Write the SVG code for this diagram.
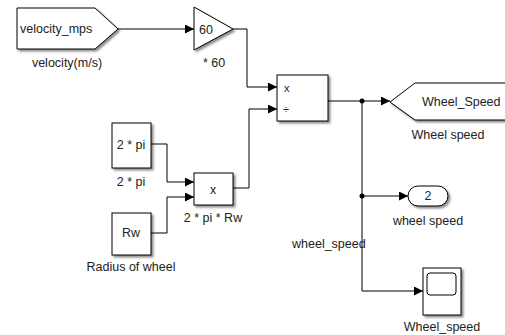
<svg xmlns="http://www.w3.org/2000/svg" width="505" height="335" viewBox="0 0 505 335">
<defs>
<filter id="sh" x="-20%" y="-20%" width="150%" height="150%">
<feDropShadow dx="2" dy="2" stdDeviation="1.3" flood-color="#000" flood-opacity="0.45"/>
</filter>
<marker id="ar" viewBox="0 0 10 10" refX="10" refY="5" markerWidth="9" markerHeight="9" markerUnits="userSpaceOnUse" orient="auto">
<path d="M0,0 L10,5 L0,10 z" fill="#000"/>
</marker>
</defs>
<style>
.blk{fill:#fff;stroke:#000;stroke-width:1;filter:url(#sh)}
.ln{fill:none;stroke:#000;stroke-width:1;marker-end:url(#ar)}
.ln2{fill:none;stroke:#000;stroke-width:1}
text{font-family:"Liberation Sans",Arial,sans-serif;font-size:12.5px;fill:#222}
.c{text-anchor:middle}
.sm{font-size:11px}
</style>
<rect width="505" height="335" fill="#fff"/>
<g id="connectors">
<path class="ln" d="M118,29 H194"/>
<path class="ln" d="M233,29 H247 V87 H277"/>
<path class="ln" d="M151,144 H167 V182 H194"/>
<path class="ln" d="M151,233 H167 V197 H194"/>
<path class="ln" d="M233,188 H249 V109 H277"/>
<path class="ln" d="M328,101 H390"/>
<path class="ln" d="M362,196 H408"/>
<path class="ln" d="M362,101 V291 H423"/>
<circle cx="362" cy="101" r="2.5" fill="#000"/>
<circle cx="362" cy="196" r="2.5" fill="#000"/>
<text x="292" y="248" font-size="11.5">wheel_speed</text>
</g>
<g id="from_velocity">
<polygon class="blk" points="17,8 95,8 118,29 95,49 17,49"/>
<text x="20" y="33">velocity_mps</text>
<text class="c" x="67" y="67">velocity(m/s)</text>
</g>
<g id="gain60">
<polygon class="blk" points="194,7 233,29 194,50"/>
<text x="199" y="34">60</text>
<text class="c" x="214" y="67">* 60</text>
</g>
<g id="divide">
<rect class="blk" x="277" y="75" width="51" height="46"/>
<text class="sm" x="284" y="92">x</text>
<text class="sm" x="283" y="113">÷</text>
</g>
<g id="const_2pi">
<rect class="blk" x="112" y="123" width="39" height="45"/>
<text class="c" x="131" y="149">2 * pi</text>
<text class="c" x="131" y="186">2 * pi</text>
</g>
<g id="const_rw">
<rect class="blk" x="112" y="213" width="39" height="42"/>
<text class="c" x="131" y="237">Rw</text>
<text class="c" x="131" y="271">Radius of wheel</text>
</g>
<g id="product">
<rect class="blk" x="194" y="173" width="39" height="32"/>
<text class="c" x="213" y="194">x</text>
<text class="c" x="213" y="222">2 * pi * Rw</text>
</g>
<g id="goto_wheel">
<polygon class="blk" points="390,102 415,83 510,83 510,120 415,120"/>
<text x="422" y="106">Wheel_Speed</text>
<text class="c" x="448" y="139">Wheel speed</text>
</g>
<g id="outport2">
<rect class="blk" x="408" y="186" width="40" height="20" rx="10"/>
<text class="c" x="428" y="200">2</text>
<text class="c" x="428" y="225">wheel speed</text>
</g>
<g id="scope">
<rect class="blk" x="423" y="268" width="38" height="47"/>
<rect x="427" y="273" width="29" height="22" rx="3" fill="#fff" stroke="#000"/>
<text class="c" x="442" y="331">Wheel_speed</text>
</g>
</svg>
